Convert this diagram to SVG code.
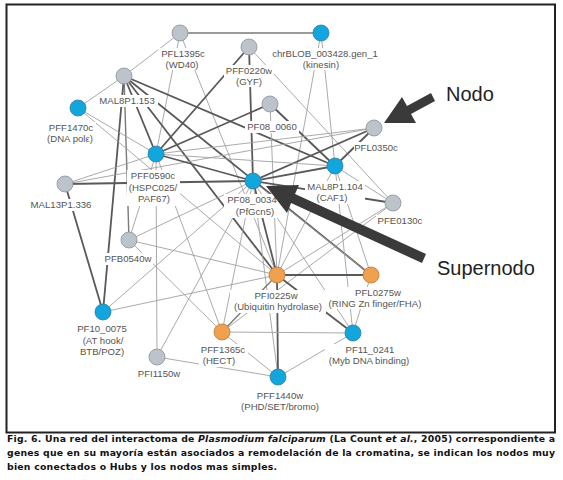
<svg xmlns="http://www.w3.org/2000/svg" width="563" height="480" viewBox="0 0 563 480">
<style>
.t{stroke:#595959;stroke-width:1.8}
.n{stroke:#a0a0a0;stroke-width:0.9}
.m{stroke:#7a7a7a;stroke-width:1.4}
.bg{fill:#fff}
.lb{font-family:"Liberation Sans",Arial,sans-serif;font-size:9.6px;fill:#555;text-anchor:middle}
.blue{fill:#12a6dc;stroke:#2f7ea3;stroke-width:0.8}
.gray{fill:#bcc3cb;stroke:#8a9199;stroke-width:0.8}
.orange{fill:#f0a04e;stroke:#b9793a;stroke-width:0.8}
.cap{font-family:"DejaVu Sans",sans-serif;font-weight:bold;font-size:9.3px;fill:#111}
.big{font-family:"Liberation Sans",Arial,sans-serif;font-size:20px;fill:#222}
</style>
<rect x="6.5" y="4.5" width="548.5" height="428" fill="#fff" stroke="#222" stroke-width="2"/>
<g id="connectors">
<line class="m" x1="180" y1="33" x2="321" y2="33"/>
<line class="n" x1="180" y1="33" x2="124" y2="76"/>
<line class="n" x1="180" y1="33" x2="156" y2="154"/>
<line class="n" x1="180" y1="33" x2="277" y2="275"/>
<line class="n" x1="321" y1="33" x2="277" y2="275"/>
<line class="n" x1="321" y1="33" x2="335" y2="166"/>
<line class="t" x1="249" y1="47" x2="156" y2="154"/>
<line class="t" x1="249" y1="47" x2="253" y2="181"/>
<line class="n" x1="249" y1="47" x2="393" y2="203"/>
<line class="n" x1="124" y1="76" x2="78" y2="108"/>
<line class="t" x1="124" y1="76" x2="103" y2="312"/>
<line class="m" x1="124" y1="76" x2="129" y2="240"/>
<line class="t" x1="124" y1="76" x2="156" y2="154"/>
<line class="t" x1="124" y1="76" x2="277" y2="275"/>
<line class="t" x1="124" y1="76" x2="335" y2="166"/>
<line class="t" x1="124" y1="76" x2="371" y2="275"/>
<line class="n" x1="78" y1="108" x2="156" y2="154"/>
<line class="n" x1="78" y1="108" x2="277" y2="275"/>
<line class="t" x1="270" y1="104" x2="156" y2="154"/>
<line class="n" x1="270" y1="104" x2="277" y2="275"/>
<line class="t" x1="270" y1="104" x2="335" y2="166"/>
<line class="n" x1="374" y1="128" x2="156" y2="154"/>
<line class="t" x1="374" y1="128" x2="253" y2="181"/>
<line class="t" x1="374" y1="128" x2="335" y2="166"/>
<line class="n" x1="374" y1="128" x2="65" y2="184"/>
<line class="n" x1="156" y1="154" x2="65" y2="184"/>
<line class="t" x1="156" y1="154" x2="253" y2="181"/>
<line class="n" x1="156" y1="154" x2="129" y2="240"/>
<line class="n" x1="156" y1="154" x2="222" y2="332"/>
<line class="n" x1="156" y1="154" x2="157" y2="357"/>
<line class="n" x1="156" y1="154" x2="335" y2="166"/>
<line class="t" x1="65" y1="184" x2="253" y2="181"/>
<line class="t" x1="65" y1="184" x2="103" y2="312"/>
<line class="n" x1="253" y1="181" x2="129" y2="240"/>
<line class="t" x1="253" y1="181" x2="277" y2="275"/>
<line class="n" x1="253" y1="181" x2="371" y2="275"/>
<line class="n" x1="253" y1="181" x2="222" y2="332"/>
<line class="n" x1="253" y1="181" x2="353" y2="333"/>
<line class="n" x1="253" y1="181" x2="103" y2="312"/>
<line class="n" x1="253" y1="181" x2="278" y2="377"/>
<line class="t" x1="253" y1="181" x2="393" y2="203"/>
<line class="t" x1="253" y1="181" x2="335" y2="166"/>
<line class="n" x1="253" y1="181" x2="157" y2="357"/>
<line class="n" x1="335" y1="166" x2="393" y2="203"/>
<line class="n" x1="335" y1="166" x2="277" y2="275"/>
<line class="n" x1="335" y1="166" x2="371" y2="275"/>
<line class="n" x1="335" y1="166" x2="353" y2="333"/>
<line class="n" x1="393" y1="203" x2="277" y2="275"/>
<line class="n" x1="393" y1="203" x2="222" y2="332"/>
<line class="n" x1="129" y1="240" x2="277" y2="275"/>
<line class="n" x1="129" y1="240" x2="222" y2="332"/>
<line class="t" x1="277" y1="275" x2="371" y2="275"/>
<line class="t" x1="277" y1="275" x2="278" y2="377"/>
<line class="t" x1="277" y1="275" x2="353" y2="333"/>
<line class="n" x1="277" y1="275" x2="103" y2="312"/>
<line class="m" x1="277" y1="275" x2="222" y2="332"/>
<line class="n" x1="371" y1="275" x2="353" y2="333"/>
<line class="n" x1="222" y1="332" x2="353" y2="333"/>
<line class="n" x1="222" y1="332" x2="278" y2="377"/>
<line class="n" x1="157" y1="357" x2="278" y2="377"/>
<line class="n" x1="278" y1="377" x2="353" y2="333"/>
</g>
<g id="PFL1395c"><rect class="bg" x="158" y="48" width="48" height="22"/><text class="lb" x="183" y="56.5">PFL1395c</text><text class="lb" x="182" y="67.5">(WD40)</text><circle class="gray" cx="180" cy="33" r="8"/></g>
<g id="PFF0220w"><rect class="bg" x="224" y="65" width="50" height="22"/><text class="lb" x="249" y="73.5">PFF0220w</text><text class="lb" x="249" y="84.5">(GYF)</text><circle class="gray" cx="249" cy="47" r="8"/></g>
<g id="chrBLOB_003428"><rect class="bg" x="269" y="48" width="112" height="22"/><text class="lb" x="325" y="57">chrBLOB_003428.gen_1</text><text class="lb" x="321" y="68">(kinesin)</text><circle class="blue" cx="321" cy="33" r="8"/></g>
<g id="MAL8P1.153"><rect class="bg" x="97" y="95" width="61" height="12"/><text class="lb" x="127" y="104">MAL8P1.153</text><circle class="gray" cx="124" cy="76" r="8"/></g>
<g id="PFF1470c"><rect class="bg" x="45" y="122" width="51" height="23"/><text class="lb" x="71" y="131">PFF1470c</text><text class="lb" x="70" y="142">(DNA polε)</text><circle class="blue" cx="78" cy="108" r="8"/></g>
<g id="PF08_0060"><rect class="bg" x="245" y="121" width="54" height="12"/><text class="lb" x="272" y="130">PF08_0060</text><circle class="gray" cx="270" cy="104" r="8"/></g>
<g id="PFL0350c"><rect class="bg" x="354" y="142" width="45" height="12"/><text class="lb" x="376" y="151">PFL0350c</text><circle class="gray" cx="374" cy="128" r="8"/></g>
<g id="PFF0590c"><rect class="bg" x="127" y="170" width="53" height="36"/><text class="lb" x="153" y="179">PFF0590c</text><text class="lb" x="153" y="190.5">(HSPC025/</text><text class="lb" x="154" y="202">PAF67)</text><circle class="blue" cx="156" cy="154" r="8"/></g>
<g id="PF08_0034"><rect class="bg" x="224" y="194" width="54" height="24"/><text class="lb" x="252" y="203">PF08_0034</text><text class="lb" x="255" y="214.5">(PfGcn5)</text><circle class="blue" cx="253" cy="181" r="8"/></g>
<g id="MAL8P1.104"><rect class="bg" x="305" y="181" width="60" height="23"/><text class="lb" x="335" y="190">MAL8P1.104</text><text class="lb" x="332" y="201">(CAF1)</text><circle class="blue" cx="335" cy="166" r="8"/></g>
<g id="PFE0130c"><rect class="bg" x="376" y="215" width="48" height="12"/><text class="lb" x="400" y="224">PFE0130c</text><circle class="gray" cx="393" cy="203" r="8"/></g>
<g id="MAL13P1.336"><rect class="bg" x="29" y="199" width="65" height="12"/><text class="lb" x="61" y="208">MAL13P1.336</text><circle class="gray" cx="65" cy="184" r="8"/></g>
<g id="PFB0540w"><rect class="bg" x="103" y="253" width="50" height="12"/><text class="lb" x="128" y="262">PFB0540w</text><circle class="gray" cx="129" cy="240" r="8"/></g>
<g id="PFI0225w"><rect class="bg" x="230" y="290" width="96" height="23"/><text class="lb" x="276" y="299">PFI0225w</text><text class="lb" x="278" y="310">(Ubiquitin hydrolase)</text><circle class="orange" cx="277" cy="275" r="8"/></g>
<g id="PFL0275w"><rect class="bg" x="326" y="287" width="100" height="22"/><text class="lb" x="378" y="295.5">PFL0275w</text><text class="lb" x="375" y="306.5">(RING Zn finger/FHA)</text><circle class="orange" cx="371" cy="275" r="8"/></g>
<g id="PF10_0075"><rect class="bg" x="76" y="323" width="54" height="35"/><text class="lb" x="102" y="332">PF10_0075</text><text class="lb" x="103" y="343.5">(AT hook/</text><text class="lb" x="102" y="355">BTB/POZ)</text><circle class="blue" cx="103" cy="312" r="8"/></g>
<g id="PFF1365c"><rect class="bg" x="199" y="344" width="49" height="23"/><text class="lb" x="223" y="353">PFF1365c</text><text class="lb" x="219" y="364">(HECT)</text><circle class="orange" cx="222" cy="332" r="8"/></g>
<g id="PF11_0241"><rect class="bg" x="325" y="344" width="89" height="23"/><text class="lb" x="370" y="353">PF11_0241</text><text class="lb" x="369" y="364">(Myb DNA binding)</text><circle class="blue" cx="353" cy="333" r="8"/></g>
<g id="PFI1150w"><rect class="bg" x="136" y="368" width="47" height="12"/><text class="lb" x="159" y="377">PFI1150w</text><circle class="gray" cx="157" cy="357" r="8"/></g>
<g id="PFF1440w"><rect class="bg" x="238" y="390" width="84" height="23"/><text class="lb" x="280" y="399">PFF1440w</text><text class="lb" x="280" y="410">(PHD/SET/bromo)</text><circle class="blue" cx="278" cy="377" r="8"/></g>
<g id="arrows" fill="#3a3a3a">
<polygon points="384,123 402,97 407,106 431,93 435,101 411,114 416,123"/>
<polygon points="266,186 299,185 295,194 426,254 422,263 291,203 287,213"/>
</g>
<text class="big" x="446" y="101">Nodo</text>
<text class="big" x="437" y="275">Supernodo</text>
<text class="cap" x="7" y="442" textLength="548" lengthAdjust="spacing">Fig. 6. Una red del interactoma de <tspan font-style="italic">Plasmodium falciparum</tspan> (La Count <tspan font-style="italic">et al.</tspan>, 2005) correspondiente a</text>
<text class="cap" x="7" y="456" textLength="548" lengthAdjust="spacing">genes que en su mayoría están asociados a remodelación de la cromatina, se indican los nodos muy</text>
<text class="cap" x="7" y="470" textLength="270" lengthAdjust="spacing">bien conectados o Hubs y los nodos mas simples.</text>
</svg>
